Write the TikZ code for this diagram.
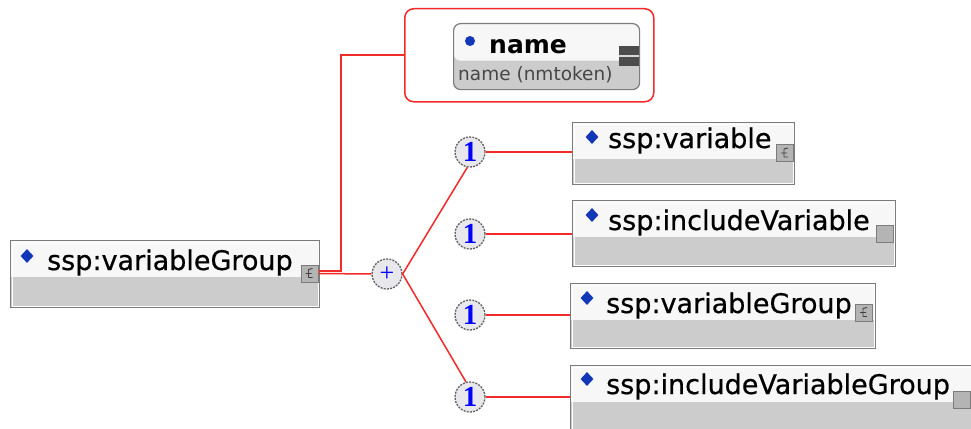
\documentclass[tikz,border=0pt]{standalone}
\usepackage{fontspec}
\setmainfont{DejaVu Sans}
\newfontfamily\numfont{Liberation Serif}
\newfontfamily\elfont[FakeBold=0.6]{DejaVu Sans}
\usetikzlibrary{shapes.geometric}
\definecolor{boxgray}{HTML}{CCCCCC}
\definecolor{boxtop}{HTML}{F7F7F7}
\definecolor{boxline}{HTML}{7C7C7C}
\definecolor{conn}{HTML}{F22A2A}
\definecolor{diam}{HTML}{1238B8}
\definecolor{circfill}{HTML}{E8E8EC}
\definecolor{txtgray}{HTML}{474747}
\definecolor{icongray}{HTML}{B4B4B4}
\begin{document}
\begin{tikzpicture}[x=1pt,y=-1pt,
  ebox/.style={draw=boxline, line width=1.4pt, fill=boxgray, anchor=north west,
    inner sep=0pt, minimum height=#1,
    path picture={
      \fill[boxtop] (path picture bounding box.north west) rectangle
        ([yshift=-36pt]path picture bounding box.north east);
      \draw[white, line width=1pt]
        ([shift={(1.6pt,-1.6pt)}]path picture bounding box.north west) rectangle
        ([shift={(-1.6pt,1.6pt)}]path picture bounding box.south east);}},
  ename/.style={anchor=base west, inner sep=0pt, font=\elfont\fontsize{27}{30}\selectfont, text=black},
  dia/.style={diamond, fill=diam, inner sep=0pt, minimum width=13pt, minimum height=14pt},
  ticon/.style={draw=boxline, fill=icongray, line width=1pt, minimum size=17pt, inner sep=0pt,
    path picture={
      \draw[black!75, line width=0.9pt]
        ([shift={(-1pt,-4pt)}]path picture bounding box.center) -- ([shift={(-1pt,4pt)}]path picture bounding box.center)
        ([shift={(-1pt,4pt)}]path picture bounding box.center) -- ([shift={(3pt,5pt)}]path picture bounding box.center)
        ([shift={(-1pt,0pt)}]path picture bounding box.center) -- ([shift={(2pt,0pt)}]path picture bounding box.center)
        ([shift={(-1pt,-4pt)}]path picture bounding box.center) -- ([shift={(3pt,-4pt)}]path picture bounding box.center)
        ([shift={(-1pt,0pt)}]path picture bounding box.center) -- ([shift={(-4pt,0pt)}]path picture bounding box.center);}},
  picon/.style={draw=boxline, fill=icongray, line width=1pt, minimum size=17pt, inner sep=0pt},
  card/.style={circle, draw=gray!75!black, dash pattern=on 2pt off 1.2pt, line width=1.3pt,
    fill=circfill, minimum size=30pt, inner sep=0pt, text=blue,
    font=\numfont\bfseries\fontsize{29}{29}\selectfont},
  conn/.style={draw=conn, line width=1.5pt}
]
\useasboundingbox (0,0) rectangle (971,428);
\clip (0,0) rectangle (971,428);
\fill[white] (0,0) rectangle (971,428);

% ---- left element
\node[ebox=67pt, minimum width=309pt] (vg) at (10,240) {};
\node[dia] (vgd) at (27,256) {};
\node[ename] (vgt) at (47,270) {ssp:variableGroup};
\node[ticon] (vgi) at (309.5,273.5) {};

% ---- attribute container
\node[draw=conn, line width=1.5pt, rounded corners=9pt, fill=white, anchor=north west,
      minimum width=249pt, minimum height=93pt, inner sep=0pt] (frame) at (404,8) {};
\node[draw=boxline, line width=1.2pt, rounded corners=7pt, fill=boxgray, anchor=north west,
      minimum width=186pt, minimum height=66pt, inner sep=0pt,
      path picture={\fill[boxtop] (path picture bounding box.north west) rectangle
        ([yshift=-37pt]path picture bounding box.north east);}] (nbox) at (453,23) {};
\node[circle, fill=diam, minimum size=10pt, inner sep=0pt] (ndot) at (470,41) {};
\node[anchor=base west, inner sep=0pt, font=\bfseries\fontsize{25}{28}\selectfont] (nt) at (489,53) {name};
\node[anchor=base west, inner sep=0pt, text=txtgray, font=\fontsize{18.5}{20}\selectfont] (nst) at (458,80) {name (nmtoken)};
\node[fill=black!70, anchor=north west, minimum width=20pt, minimum height=20pt, inner sep=0pt,
      path picture={\draw[white!85!black, line width=2pt]
        (path picture bounding box.west) -- (path picture bounding box.east);}] (nmin) at (619,46) {};

% ---- compositor and cardinalities
\node[card, minimum size=30pt, font=\numfont\fontsize{26}{26}\selectfont] (plus) at (387,274) {+};
\node[card] (c1) at (470,152) {1};
\node[card] (c2) at (470,234) {1};
\node[card] (c3) at (470,315) {1};
\node[card] (c4) at (470,397) {1};

% ---- child elements
\node[ebox=62pt, minimum width=222pt] (b1) at (572,122) {};
\node[dia] (b1d) at (592,137) {};
\node[ename] (b1t) at (608,148) {ssp:variable};
\node[ticon] (b1i) at (785,153) {};

\node[ebox=66pt, minimum width=323pt] (b2) at (572,200) {};
\node[dia] (b2d) at (592,215) {};
\node[ename] (b2t) at (608,230) {ssp:includeVariable};
\node[picon] (b2i) at (885,234) {};

\node[ebox=65pt, minimum width=305pt] (b3) at (570,283) {};
\node[dia] (b3d) at (587,298) {};
\node[ename] (b3t) at (606,313) {ssp:variableGroup};
\node[ticon] (b3i) at (864,312.5) {};

\node[ebox=80pt, minimum width=420pt] (b4) at (570,365) {};
\node[dia] (b4d) at (587,379) {};
\node[ename] (b4t) at (606,394) {ssp:includeVariableGroup};
\node[picon] (b4i) at (962,400) {};

% ---- connectors
\coordinate (j) at (341,0);
\draw[conn] ([yshift=2.5pt]vgi.east) -- ([yshift=2.5pt]vgi.east -| j) |- (frame.west);
\draw[conn] (vgi.east) -- (plus.west);
\draw[conn] (c1.-100) -- (plus.east) -- (c4.105);
\draw[conn] (c1.east) -- (c1.east -| b1.west);
\draw[conn] (c2.east) -- (c2.east -| b2.west);
\draw[conn] (c3.east) -- (c3.east -| b3.west);
\draw[conn] (c4.east) -- (c4.east -| b4.west);
\end{tikzpicture}
\end{document}
